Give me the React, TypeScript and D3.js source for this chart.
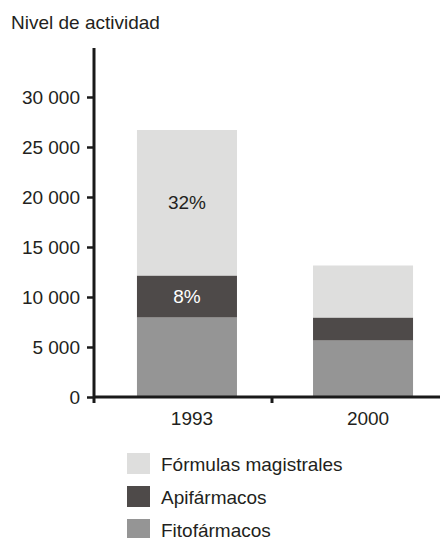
import React, { useEffect, useRef } from "react";
import * as d3 from "d3";

const years = ["1993", "2000"];
const fitofarmacos = [7950, 5650];
const apifarmacos = [4200, 2300];
const formulas = [14550, 5200];
const seriesNames = ["Fórmulas magistrales", "Apifármacos", "Fitofármacos"];
const segmentLabels = { formulas: ["32%", ""], api: ["8%", ""], fito: ["", ""] };
const yTicks = [0, 5000, 10000, 15000, 20000, 25000, 30000];

const colors = { formulas: "#dededd", api: "#4e4a49", fito: "#959595" };
const labelColors = { formulas: "#231f20", api: "#ffffff", fito: "#231f20" };
const font = "'Liberation Sans', Arial, sans-serif";

const App = () => {
  const ref = useRef<SVGSVGElement>(null);
  const width = 440;
  const height = 538;

  useEffect(() => {
    const svg = d3.select(ref.current);
    svg.selectAll("*").remove();

    const rows = years.map((y, i) => ({
      year: y,
      fito: fitofarmacos[i],
      api: apifarmacos[i],
      formulas: formulas[i],
    }));
    const keys = ["fito", "api", "formulas"];
    const stacked = d3.stack<any>().keys(keys)(rows);

    const x = d3
      .scaleBand()
      .domain(years)
      .range([94, 456])
      .paddingInner(0.432)
      .paddingOuter(0.244);
    const y = d3.scaleLinear().domain([0, 30000]).range([397, 97]);

    const fmt = d3
      .formatLocale({ decimal: ",", thousands: " ", grouping: [3], currency: ["", ""] })
      .format(",");

    // title
    svg
      .append("text")
      .attr("x", 11)
      .attr("y", 29)
      .attr("font-size", 19)
      .attr("fill", "#231f20")
      .text("Nivel de actividad");

    // bars
    const layers = svg
      .selectAll(".layer")
      .data(stacked)
      .enter()
      .append("g")
      .attr("fill", (d) => colors[d.key]);
    layers
      .selectAll("rect")
      .data((d) => d)
      .enter()
      .append("rect")
      .attr("x", (d: any) => x(d.data.year)!)
      .attr("width", x.bandwidth())
      .attr("y", (d) => y(d[1]))
      .attr("height", (d) => y(d[0]) - y(d[1]));

    // percentage labels inside segments
    stacked.forEach((layer) => {
      layer.forEach((d: any, i) => {
        const label = segmentLabels[layer.key][i];
        if (!label) return;
        svg
          .append("text")
          .attr("x", x(d.data.year)! + x.bandwidth() / 2)
          .attr("y", (y(d[0]) + y(d[1])) / 2)
          .attr("dy", "0.35em")
          .attr("text-anchor", "middle")
          .attr("font-size", 19)
          .attr("fill", labelColors[layer.key])
          .text(label);
      });
    });

    // y axis
    const yAxis = svg
      .append("g")
      .attr("transform", "translate(94,0)")
      .call(d3.axisLeft(y).tickValues(yTicks).tickFormat((v) => fmt(+v)).tickSize(7).tickPadding(7));
    yAxis.select(".domain").remove();
    yAxis.selectAll("line").attr("stroke", "#1a1a1a").attr("stroke-width", 2.5);
    yAxis.selectAll("text").attr("font-size", 19).attr("font-family", font).attr("fill", "#231f20");
    svg
      .append("line")
      .attr("x1", 94)
      .attr("x2", 94)
      .attr("y1", 48)
      .attr("y2", 403)
      .attr("stroke", "#1a1a1a")
      .attr("stroke-width", 3);

    // x axis
    svg
      .append("line")
      .attr("x1", 94)
      .attr("x2", width)
      .attr("y1", y(0))
      .attr("y2", y(0))
      .attr("stroke", "#1a1a1a")
      .attr("stroke-width", 3);
    const mid = (x(years[0])! + x.bandwidth() + x(years[1])!) / 2 - 3;
    svg
      .append("line")
      .attr("x1", mid)
      .attr("x2", mid)
      .attr("y1", y(0))
      .attr("y2", 403)
      .attr("stroke", "#1a1a1a")
      .attr("stroke-width", 3);
    svg
      .selectAll(".year")
      .data(years)
      .enter()
      .append("text")
      .attr("x", (d) => x(d)! + x.bandwidth() / 2 + 5)
      .attr("y", 425)
      .attr("text-anchor", "middle")
      .attr("font-size", 19)
      .attr("fill", "#231f20")
      .text((d) => d);

    // legend
    const legendKeys = ["formulas", "api", "fito"];
    const legend = svg
      .selectAll(".legend")
      .data(legendKeys)
      .enter()
      .append("g")
      .attr("transform", (d, i) => `translate(127,${453 + i * 33})`);
    legend
      .append("rect")
      .attr("width", 23)
      .attr("height", 21)
      .attr("fill", (d) => colors[d]);
    legend
      .append("text")
      .attr("x", 34)
      .attr("y", 18)
      .attr("font-size", 19)
      .attr("fill", "#231f20")
      .text((d, i) => seriesNames[i]);
  });

  return (
    <svg
      ref={ref}
      width={width}
      height={height}
      style={{ position: "absolute", left: 0, top: 0, fontFamily: font }}
    ></svg>
  );
};

export default App;
